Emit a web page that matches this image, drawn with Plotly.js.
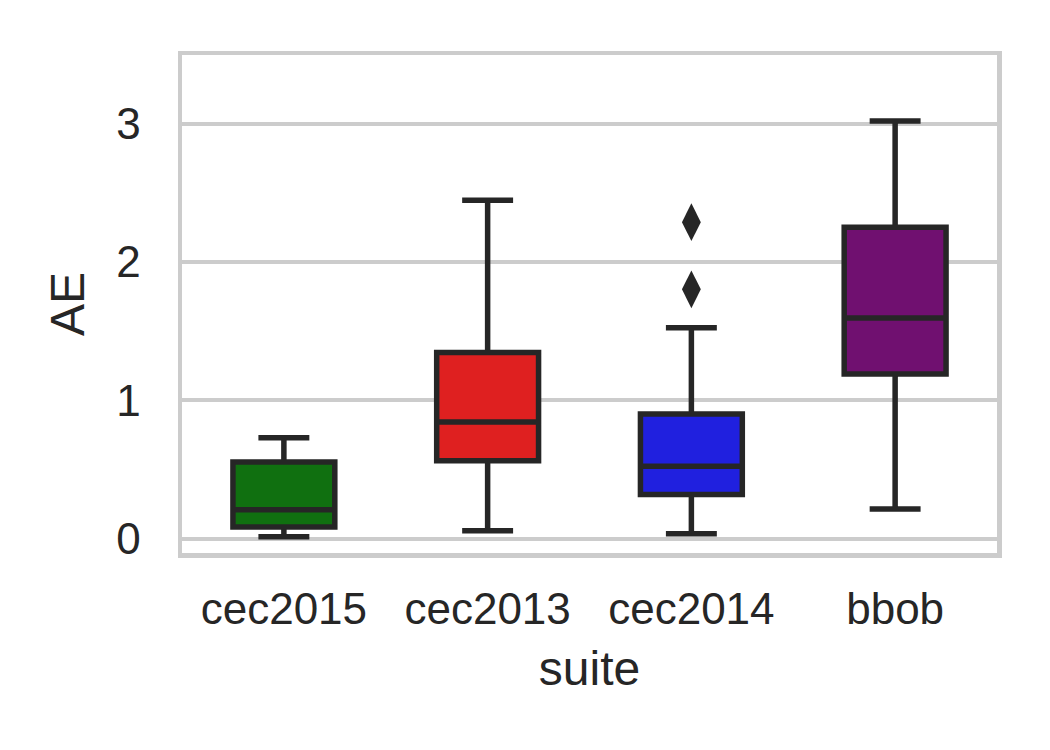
<!DOCTYPE html>
<html>
<head>
<meta charset="utf-8">
<script src="https://cdn.plot.ly/plotly-3.0.1.min.js"></script>
<style>html,body{margin:0;padding:0;background:#fff;}#chart{width:1050px;height:750px;}</style>
</head>
<body>
<div id="chart"></div>
<script>
// Data
const suites = ['cec2015', 'cec2013', 'cec2014', 'bbob'];
const lowerWhisker = [0.014, 0.058, 0.036, 0.215];
const q1Values = [0.085, 0.563, 0.319, 1.190];
const medianValues = [0.209, 0.843, 0.524, 1.594];
const q3Values = [0.554, 1.346, 0.901, 2.251];
const upperWhisker = [0.729, 2.446, 1.524, 3.019];
const outlierSuite = ['cec2014', 'cec2014'];
const outlierAE = [2.287, 1.802];
const yTicks = [0, 1, 2, 3];

const boxColors = ['rgb(16,112,16)', 'rgb(223,32,32)', 'rgb(32,32,223)', 'rgb(112,16,112)'];
const dark = '#262626';
const fontFamily = 'Liberation Sans, Arial, sans-serif';

const traces = suites.map((s, i) => ({
  type: 'box',
  x: [s],
  q1: [q1Values[i]],
  median: [medianValues[i]],
  q3: [q3Values[i]],
  lowerfence: [lowerWhisker[i]],
  upperfence: [upperWhisker[i]],
  width: 0.5,
  fillcolor: boxColors[i],
  line: {color: dark, width: 5.5},
  whiskerwidth: 0.5,
  boxpoints: false,
  showlegend: false,
  hoverinfo: 'skip'
}));

traces.push({
  type: 'scatter',
  mode: 'markers',
  x: outlierSuite,
  y: outlierAE,
  marker: {symbol: 'diamond-tall', size: 27, color: dark, line: {width: 0}},
  showlegend: false,
  hoverinfo: 'skip'
});

const layout = {
  width: 1050,
  height: 750,
  margin: {l: 182, r: 53, t: 55, b: 197},
  paper_bgcolor: '#ffffff',
  plot_bgcolor: '#ffffff',
  boxmode: 'overlay',
  boxgap: 0.5,
  boxgroupgap: 0,
  font: {family: fontFamily, color: dark, size: 44},
  xaxis: {
    type: 'category',
    categoryorder: 'array',
    categoryarray: suites,
    range: [-0.5, 3.5],
    showgrid: false,
    zeroline: false,
    showline: true,
    mirror: true,
    linecolor: '#cccccc',
    linewidth: 4.5,
    ticks: '',
    ticklabelstandoff: 14,
    tickfont: {family: fontFamily, size: 44, color: dark},
    title: {text: 'suite', font: {family: fontFamily, size: 48, color: dark}, standoff: 20}
  },
  yaxis: {
    range: [-0.103, 3.495],
    tickvals: yTicks,
    ticktext: yTicks.map(String),
    showgrid: true,
    gridcolor: '#cccccc',
    gridwidth: 4,
    zeroline: false,
    showline: true,
    mirror: true,
    linecolor: '#cccccc',
    linewidth: 4.5,
    ticks: '',
    ticklabelstandoff: 28,
    tickfont: {family: fontFamily, size: 44, color: dark},
    title: {text: 'AE', font: {family: fontFamily, size: 48, color: dark}, standoff: 18}
  }
};

Plotly.newPlot('chart', traces, layout, {staticPlot: true, displayModeBar: false});
</script>
</body>
</html>
